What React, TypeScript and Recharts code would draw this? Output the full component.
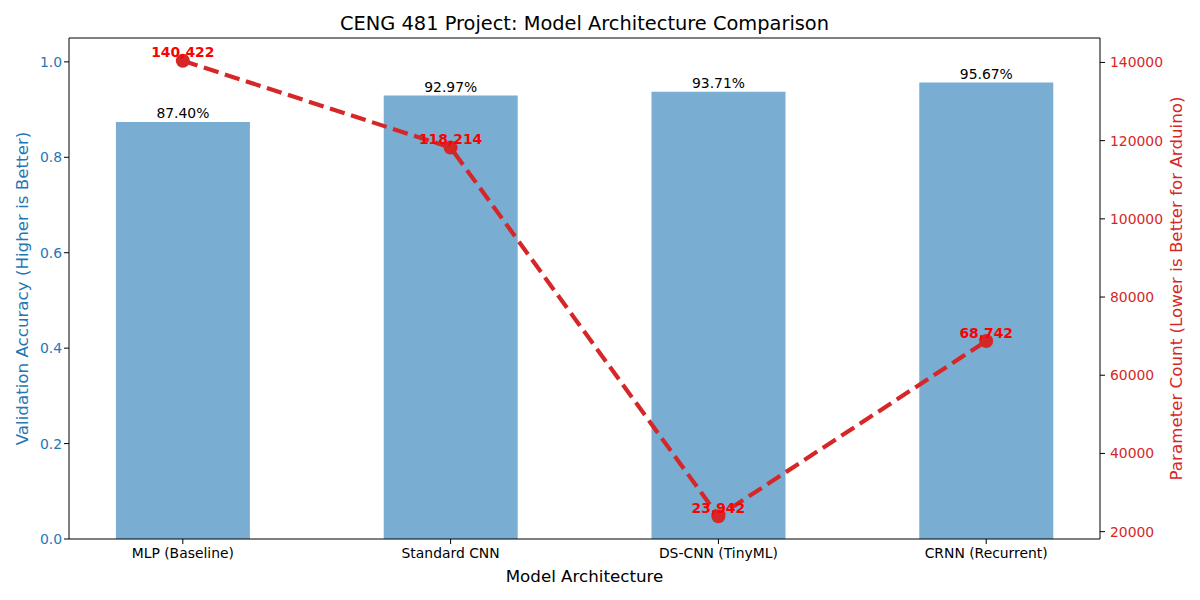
import React from "react";
import {
  ComposedChart,
  Bar,
  Line,
  XAxis,
  YAxis,
  LabelList,
  ReferenceLine,
} from "recharts";

const categories = ["MLP (Baseline)", "Standard CNN", "DS-CNN (TinyML)", "CRNN (Recurrent)"];
const accuracy = [0.874, 0.9297, 0.9371, 0.9567];
const params = [140422, 118214, 23942, 68742];
const accTicks = [0, 0.2, 0.4, 0.6, 0.8, 1.0];
const paramTicks = [20000, 40000, 60000, 80000, 100000, 120000, 140000];
const xTicks = [0, 1, 2, 3];

const data = categories.map((name, i) => ({
  idx: i,
  name,
  accuracy: accuracy[i],
  params: params[i],
}));

const FONT = "'DejaVu Sans', sans-serif";
const BLUE = "#1f77b4";
const RED = "#d62728";

const BarLabel = (props: any) => {
  const { x, y, width, value } = props;
  return (
    <text
      x={Number(x) + Number(width) / 2}
      y={Number(y) - 3.5}
      textAnchor="middle"
      fontSize={13.9}
      fontFamily={FONT}
      fill="#000"
    >
      {(Number(value) * 100).toFixed(2) + "%"}
    </text>
  );
};

const PointLabel = (props: any) => {
  const { x, y, value } = props;
  return (
    <text
      x={Number(x)}
      y={Number(y) - 3.5}
      textAnchor="middle"
      fontSize={13.9}
      fontWeight="bold"
      fontFamily={FONT}
      fill="#ff0000"
    >
      {Number(value).toLocaleString("en-US")}
    </text>
  );
};

export default function App() {
  return (
    <div style={{ position: "absolute", left: 0, top: 0, width: 1200, height: 600, background: "#fff" }}>
      <ComposedChart
        width={1200}
        height={600}
        data={data}
        margin={{ top: 38, right: 0, bottom: 0, left: 0 }}
      >
        <XAxis
          dataKey="idx"
          type="number"
          domain={[-0.425, 3.425]}
          ticks={xTicks}
          allowDataOverflow
          height={61}
          tickSize={5}
          tickMargin={4}
          stroke="#000"
          tick={{ fill: "#000", fontSize: 13.9, fontFamily: FONT }}
          tickFormatter={(v: number) => categories[v] ?? ""}
          label={() => (
            <text x={584.5} y={582} textAnchor="middle" fontSize={16.7} fontFamily={FONT} fill="#000">
              Model Architecture
            </text>
          )}
        />
        <YAxis
          yAxisId="left"
          orientation="left"
          domain={[0, 1.05]}
          ticks={accTicks}
          allowDataOverflow
          width={69}
          tickSize={5}
          tickMargin={2}
          stroke="#000"
          tick={{ fill: BLUE, fontSize: 13.9, fontFamily: FONT }}
          tickFormatter={(v: number) => v.toFixed(1)}
          label={() => (
            <text
              x={22}
              y={288.5}
              transform="rotate(-90, 22, 288.5)"
              textAnchor="middle"
              dominantBaseline="central"
              fontSize={16.7}
              fontFamily={FONT}
              fill={BLUE}
            >
              Validation Accuracy (Higher is Better)
            </text>
          )}
        />
        <YAxis
          yAxisId="right"
          orientation="right"
          domain={[18118, 146246]}
          ticks={paramTicks}
          allowDataOverflow
          width={100}
          tickSize={5}
          tickMargin={5}
          stroke="#000"
          tick={{ fill: RED, fontSize: 13.9, fontFamily: FONT }}
          label={() => (
            <text
              x={1176}
              y={288.5}
              transform="rotate(-90, 1176, 288.5)"
              textAnchor="middle"
              dominantBaseline="central"
              fontSize={16.7}
              fontFamily={FONT}
              fill={RED}
            >
              Parameter Count (Lower is Better for Arduino)
            </text>
          )}
        />
        <ReferenceLine yAxisId="left" y={1.05} stroke="#000" strokeWidth={1} />
        <Bar
          yAxisId="left"
          dataKey="accuracy"
          fill="#79add2"
          barSize={134}
          isAnimationActive={false}
        >
          <LabelList dataKey="accuracy" content={BarLabel} />
        </Bar>
        <Line
          yAxisId="right"
          dataKey="params"
          stroke={RED}
          strokeWidth={4.2}
          strokeDasharray="15.4 6.7"
          dot={{ r: 7, fill: RED, stroke: RED, strokeWidth: 0, strokeDasharray: "" }}
          activeDot={false}
          isAnimationActive={false}
        >
          <LabelList dataKey="params" content={PointLabel} />
        </Line>
      </ComposedChart>
      <div
        style={{
          position: "absolute",
          left: 69,
          width: 1031,
          top: 12,
          textAlign: "center",
          fontFamily: FONT,
          fontSize: 19.4,
          lineHeight: "24px",
          color: "#000",
        }}
      >
        CENG 481 Project: Model Architecture Comparison
      </div>
    </div>
  );
}
